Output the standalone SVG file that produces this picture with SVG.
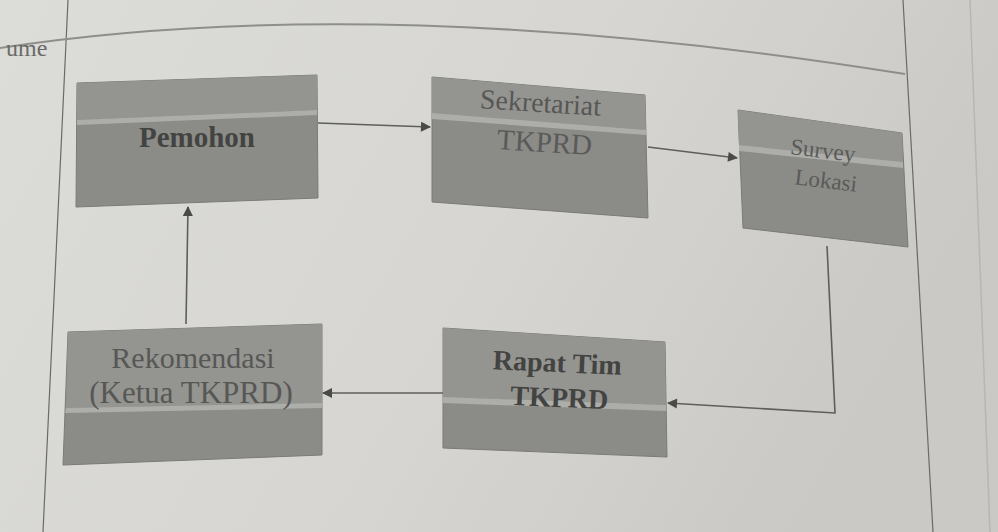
<svg xmlns="http://www.w3.org/2000/svg" width="998" height="532" viewBox="0 0 998 532">
<defs>
<linearGradient id="bg" x1="0" y1="0" x2="1" y2="0.3">
<stop offset="0" stop-color="#dcdcd9"/>
<stop offset="0.6" stop-color="#d6d5d2"/>
<stop offset="1" stop-color="#cbc9c6"/>
</linearGradient>
<marker id="ah" viewBox="0 0 10 10" refX="9" refY="5" markerWidth="11" markerHeight="10" orient="auto" markerUnits="userSpaceOnUse">
<path d="M0,0 L10,5 L0,10 z" fill="#4a4a48"/>
</marker>
<style>
.box{fill:#8b8b88;stroke:#7a7a77;stroke-width:1}
.top{fill:#949491}
.band{fill:#adadaa}
.t{font-family:"Liberation Serif","Times New Roman",serif;text-anchor:middle}
.dark{fill:#434341;font-weight:bold}
.mid{fill:#575755}
.light{fill:#5a5a58}
.conn{fill:none;stroke:#5e5e5c;stroke-width:1.6;marker-end:url(#ah)}
.page{fill:none;stroke:#6a6a68;stroke-width:1.2}
</style>
</defs>
<rect x="0" y="0" width="998" height="532" fill="url(#bg)"/>
<g id="page">
<path class="page" d="M68,0 L43,532"/>
<path class="page" d="M903,0 L933,532"/>
<path d="M970,0 L990,532" fill="none" stroke="#b8b6b3" stroke-width="1.5"/>
<path d="M0,48 Q380,-10 905,74" fill="none" stroke="#8e8e8b" stroke-width="2"/>
<text x="6" y="56" font-family="Liberation Serif, serif" font-size="24" fill="#6a6a68">ume</text>
</g>
<g id="node-pemohon">
<polygon class="box" points="77,83 317,75 318,198 76,207"/>
<polygon class="top" points="77,83 317,75 317,110 77,120"/>
<polygon class="band" points="77,120 317,110 317,115 77,125"/>
<text class="t dark" x="197" y="147" font-size="29">Pemohon</text>
</g>
<g id="node-sekretariat">
<polygon class="box" points="432,77 645,95 648,218 432,202"/>
<polygon class="top" points="432,77 645,95 646,130 432,113"/>
<polygon class="band" points="432,113 646,130 646,135 432,119"/>
<text class="t mid" transform="rotate(3.5 540 112)" x="540" y="112" font-size="28">Sekretariat</text>
<text class="t light" transform="rotate(3.5 544 152)" x="544" y="152" font-size="29">TKPRD</text>
</g>
<g id="node-survey">
<polygon class="box" points="738,110 902,133 908,247 743,228"/>
<polygon class="top" points="738,110 902,133 903,162 739,145"/>
<polygon class="band" points="739,145 903,162 903,168 739,151"/>
<text class="t light" transform="rotate(7 822 158)" x="822" y="158" font-size="23">Survey</text>
<text class="t light" transform="rotate(7 825 188)" x="825" y="188" font-size="23">Lokasi</text>
</g>
<g id="node-rekomendasi">
<polygon class="box" points="68,332 322,324 322,455 63,465"/>
<polygon class="top" points="68,332 322,324 322,403 66,408"/>
<polygon class="band" points="66,408 322,403 322,408 65,413"/>
<text class="t mid" x="193" y="368" font-size="30">Rekomendasi</text>
<text class="t mid" x="191" y="403" font-size="31">(Ketua TKPRD)</text>
</g>
<g id="node-rapat">
<polygon class="box" points="443,328 665,342 667,457 443,448"/>
<polygon class="top" points="443,328 665,342 666,405 443,397"/>
<polygon class="band" points="443,397 666,405 666,411 443,403"/>
<text class="t dark" transform="rotate(2.5 557 372)" x="557" y="372" font-size="28">Rapat Tim</text>
<text class="t dark" transform="rotate(2.5 559 407)" x="559" y="407" font-size="28">TKPRD</text>
</g>
<g id="connectors">
<path class="conn" d="M318,123 L430,127"/>
<path class="conn" d="M648,147 L737,158"/>
<path class="conn" d="M827,246 L835,413 L668,403"/>
<path class="conn" d="M443,393 L323,393"/>
<path class="conn" d="M186,324 L188,207"/>
</g>
</svg>
